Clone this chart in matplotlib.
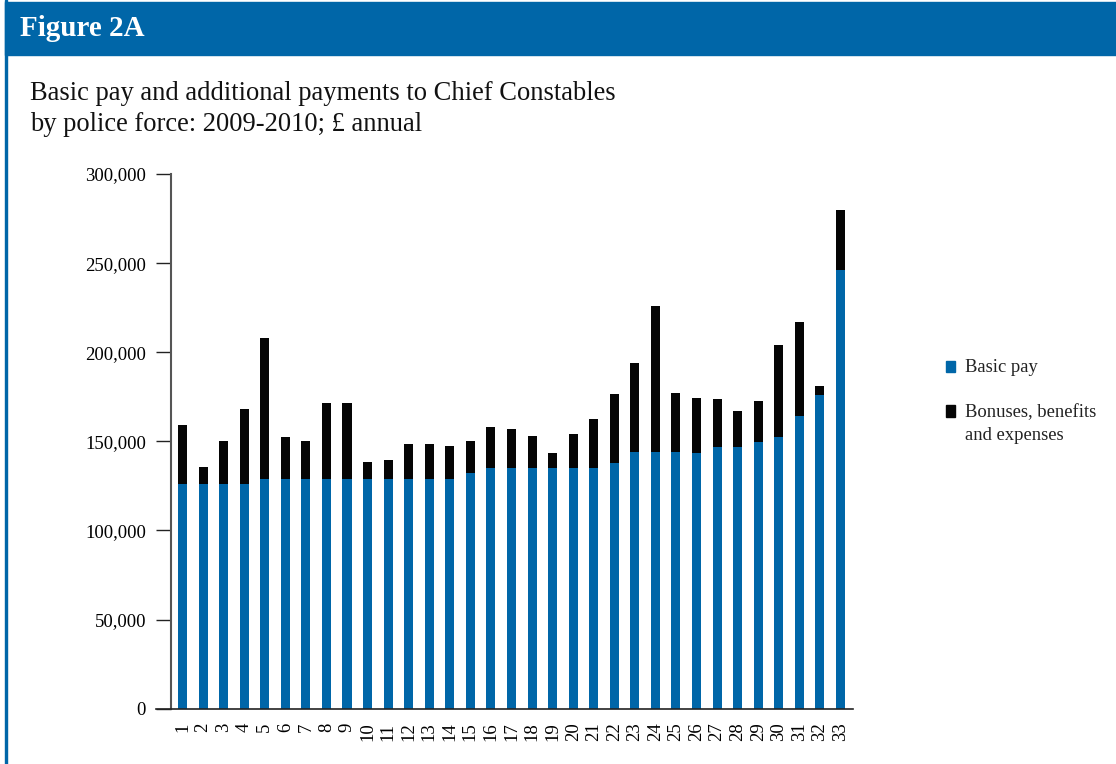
import matplotlib
matplotlib.use('Agg')
import matplotlib.pyplot as plt
from matplotlib.patches import Rectangle
from matplotlib.ticker import FuncFormatter

plt.rcParams['font.family'] = ['Liberation Serif', 'DejaVu Serif']

forces = list(range(1, 34))
basic_pay = [125800, 125800, 125800, 125800, 128700, 128700, 128700, 128700, 128700, 128700,
             128700, 128700, 128700, 128700, 132000, 134800, 134800, 134800, 134800, 134800,
             134800, 137600, 143800, 143800, 143800, 143300, 146600, 146600, 149400, 152200,
             164000, 175800, 246100]
totals = [159000, 135400, 150000, 168000, 207900, 152200, 150000, 171300, 171300, 138200,
          139300, 148300, 148300, 147200, 150000, 157900, 156700, 152800, 143300, 153900,
          162400, 176400, 193800, 225800, 177000, 174200, 173600, 166900, 172500, 203900,
          216900, 180900, 279800]
extras = [t - b for t, b in zip(totals, basic_pay)]
series_names = ['Basic pay', 'Bonuses, benefits\nand expenses']

blue = '#0066a8'
black = '#050505'
W, H = 1116, 764

fig = plt.figure(figsize=(W / 100, H / 100), dpi=100)

# header band and left frame line
fig.patches.append(Rectangle((5 / W, 1 - 55 / H), 1, 53.5 / H,
                             transform=fig.transFigure, color=blue, zorder=0))
fig.patches.append(Rectangle((5 / W, 0), 1.5 / W, 1,
                             transform=fig.transFigure, color=blue, zorder=0))
fig.text(20 / W, 1 - 29 / H, 'Figure 2A', color='white', fontsize=21,
         fontweight='bold', va='center', ha='left')
fig.text(30 / W, 1 - 81 / H,
         'Basic pay and additional payments to Chief Constables\nby police force: 2009-2010; £ annual',
         fontsize=19.1, va='top', ha='left', linespacing=1.32, color='#111111')

ax = fig.add_axes([171 / W, (H - 708.7) / H, 682 / W, 534.7 / H])
ax.bar(forces, basic_pay, width=0.44, color=blue, label=series_names[0])
ax.bar(forces, extras, bottom=basic_pay, width=0.44, color=black, label=series_names[1])

ax.set_ylim(0, 300000)
ax.set_xlim(0.44, 33.61)
ax.set_yticks(range(0, 300001, 50000))
ax.yaxis.set_major_formatter(FuncFormatter(lambda v, p: f'{int(v):,}'))
ax.set_xticks(forces)
ax.set_xticklabels([str(f) for f in forces], rotation=90)
ax.tick_params(axis='y', length=10.8, width=1, pad=7.2, labelsize=13.5, color='#222222')
ax.tick_params(axis='x', length=0, pad=10, labelsize=13.5)
for s in ['top', 'right']:
    ax.spines[s].set_visible(False)
ax.spines['left'].set_color('#555555')
ax.spines['left'].set_linewidth(1.5)
ax.spines['bottom'].set_color('#222222')
ax.spines['bottom'].set_linewidth(1.2)
ax.spines['bottom'].set_bounds(0.44 - 15 / 20.56, 33.61)

# legend, squares aligned with the first line of each label
for (sq_top, txt_y), col, name in zip([(361, 367), (405, 412)], [blue, black], series_names):
    fig.patches.append(Rectangle((946 / W, 1 - (sq_top + 11.5) / H), 9 / W, 11.5 / H,
                                 transform=fig.transFigure, color=col))
    fig.text(965 / W, 1 - (txt_y - 8) / H, name, fontsize=13.4, va='top', ha='left',
             linespacing=1.45, color='#222222')

fig.savefig('out.png', dpi=100)
